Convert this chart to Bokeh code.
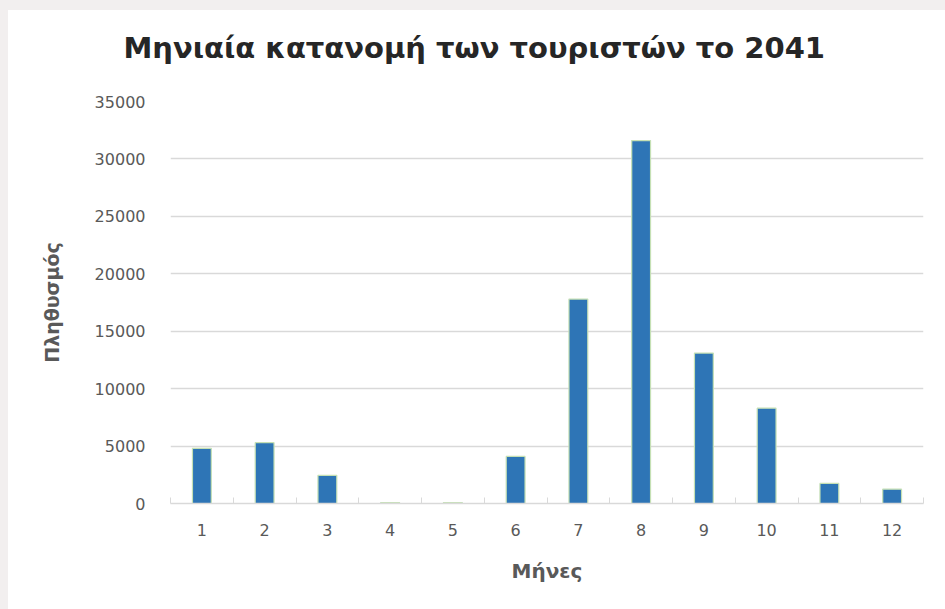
from bokeh.plotting import figure
from bokeh.layouts import column, row
from bokeh.models import Range1d, FixedTicker, Spacer, ColumnDataSource, Title
from bokeh.embed import file_html
from bokeh.resources import INLINE

# Monthly tourist counts, 2041
months = [1, 2, 3, 4, 5, 6, 7, 8, 9, 10, 11, 12]
tourists = [4800, 5300, 2450, 80, 80, 4100, 17800, 31600, 13100, 8300, 1750, 1250]
month_labels = {m: str(m) for m in months}
y_ticks = [0, 5000, 10000, 15000, 20000, 25000, 30000, 35000]

TITLE = "Μηνιαία κατανομή των τουριστών το 2041"
X_LABEL = "Μήνες"
Y_LABEL = "Πληθυσμός"

FONT = "DejaVu Sans"
GREY_TEXT = "#595959"
GRID = "#d9d9d9"
OUTER = "#f2efef"

src = ColumnDataSource(data=dict(month=months, tourists=tourists))

p = figure(
    width=937, height=599, title=None,
    x_range=Range1d(0.5, 12.5), y_range=Range1d(0, 35000),
    output_backend="svg", toolbar_location=None,
    min_border_left=162, min_border_right=22,
    min_border_top=91, min_border_bottom=106,
    background_fill_color="white", border_fill_color="white",
    outline_line_color=None,
)

p.vbar(x="month", top="tourists", width=0.30, source=src,
       fill_color="#2e75b6", line_color="#c5e0b4", line_width=1.2)

# Thin spacer panel between the plot frame and the title
p.add_layout(Title(text=" ", text_font_size="1px", standoff=16), "above")

# Chart title, shifted left so it is centred over the whole chart
p.add_layout(Title(
    text=TITLE, align="left", offset=-47, standoff=36,
    text_font=FONT, text_font_size="29px", text_font_style="bold",
    text_color="#262626",
), "above")

# X axis: labels at month centres, tick marks between months
xa = p.xaxis[0]
xa.ticker = FixedTicker(ticks=months, minor_ticks=[m - 0.5 for m in months] + [12.5])
xa.major_label_overrides = month_labels
xa.major_tick_in = 0
xa.major_tick_out = 0
xa.minor_tick_in = 6
xa.minor_tick_out = 0
xa.minor_tick_line_color = GRID
xa.axis_line_color = GRID
xa.axis_line_width = 1.5
xa.major_label_standoff = 20
xa.major_label_text_font = FONT
xa.major_label_text_font_size = "16px"
xa.major_label_text_color = GREY_TEXT
xa.axis_label = X_LABEL
xa.axis_label_text_font = FONT
xa.axis_label_text_font_size = "20px"
xa.axis_label_text_font_style = "bold"
xa.axis_label_text_color = GREY_TEXT
xa.axis_label_standoff = 20

# Y axis
ya = p.yaxis[0]
ya.ticker = FixedTicker(ticks=y_ticks)
ya.axis_line_color = None
ya.major_tick_line_color = None
ya.minor_tick_line_color = None
ya.major_tick_out = 0
ya.major_tick_in = 0
ya.major_label_standoff = 25
ya.major_label_text_font = FONT
ya.major_label_text_font_size = "16px"
ya.major_label_text_color = GREY_TEXT
ya.axis_label = Y_LABEL
ya.axis_label_text_font = FONT
ya.axis_label_text_font_size = "19px"
ya.axis_label_text_font_style = "bold"
ya.axis_label_text_color = GREY_TEXT
ya.axis_label_standoff = 29

p.xgrid.grid_line_color = None
p.ygrid.grid_line_color = GRID
p.ygrid.grid_line_width = 1.5

top_band = Spacer(width=945, height=10, styles={"background-color": OUTER})
left_band = Spacer(width=8, height=599, styles={"background-color": OUTER})
layout = column(top_band, row(left_band, p))

open("out.html", "w").write(file_html(layout, INLINE))
